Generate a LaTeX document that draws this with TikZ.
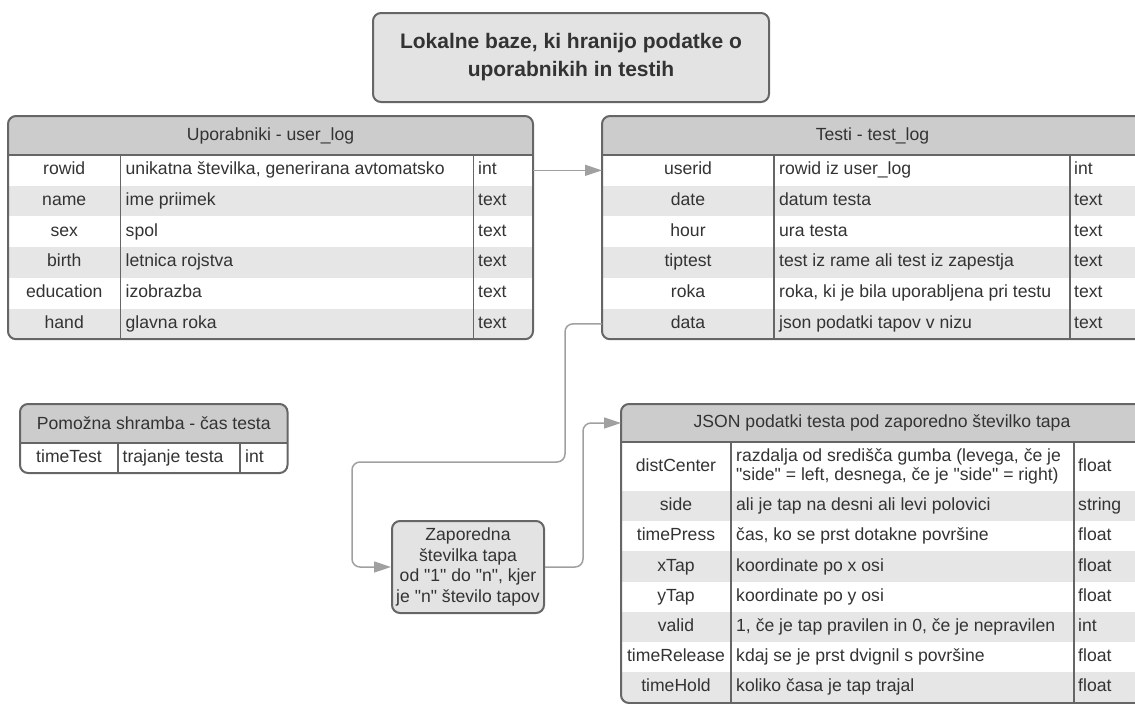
\documentclass[tikz,border=0pt]{standalone}
\usepackage{fontspec}
\setmainfont{Liberation Sans}[Ligatures=TeXOff]
\usepackage{tikz}
\usetikzlibrary{
  arrows.meta,%
  positioning,%
  calc
}
\definecolor{framegray}{HTML}{666666}
\definecolor{headgray}{HTML}{CCCCCC}
\definecolor{rowgray}{HTML}{E6E6E6}
\definecolor{boxgray}{HTML}{E3E3E3}
\definecolor{linkgray}{HTML}{A0A0A0}
\definecolor{txtgray}{HTML}{333333}
\tikzset{>={Triangle[length=17pt, width=11pt]}}
\tikzset{
  cell/.style={inner sep=0pt, outer sep=0pt, anchor=north west},
  headcell/.style={cell, fill=headgray, minimum height=39pt},
  rowcell/.style={cell, minimum height=30.7pt},
  fld/.style={inner sep=0pt, text height=12.7pt, text depth=3.7pt},
  txt/.style={fld, anchor=west},
  colline/.style={draw=framegray, line width=1.3pt},
  tabframe/.style={draw=framegray, line width=2pt, rounded corners=8pt},
  titlebox/.style={draw=framegray, line width=2pt, fill=boxgray, rounded corners=8pt,
    align=center, font=\bfseries\fontsize{21}{28}\selectfont},
  tapbox/.style={draw=framegray, line width=2pt, fill=boxgray, rounded corners=8pt,
    align=center, inner sep=2pt, minimum width=152pt, minimum height=92pt},
  link/.style={draw=linkgray, line width=1.5pt, rounded corners=8pt, ->}
}

\begin{document}
\begin{tikzpicture}[x=1pt, y=-1pt, font=\fontsize{17.6}{20.7}\selectfont, text=txtgray]
  \clip (0,0) rectangle (1135,704);

  % title
  \node[titlebox, minimum width=396pt, minimum height=89pt] (title) at (571,57.5)
    {Lokalne baze, ki hranijo podatke o\\uporabnikih in testih};

  % user_log
  \begin{scope}
    \clip[rounded corners=8pt] (8,116) rectangle (533,339.2);
    \node[headcell, minimum width=525pt] (ul-h) at (8,116) {Uporabniki - user\_log};
    \foreach \f/\d/\t/\c [count=\i] in {rowid/{unikatna številka, generirana avtomatsko}/int/white,
        name/ime priimek/text/rowgray, sex/spol/text/white, birth/letnica rojstva/text/rowgray,
        education/izobrazba/text/white, hand/glavna roka/text/rowgray}
    {
      \node[rowcell, fill=\c, minimum width=525pt] (ul-\i) at (8,{155+(\i-1)*30.7}) {};
      \node[fld] (ul-\i-f) at ([xshift=56.25pt]ul-\i.west) {\f};
      \node[txt] (ul-\i-d) at ([xshift=117.5pt]ul-\i.west) {\d};
      \node[txt] (ul-\i-t) at ([xshift=470pt]ul-\i.west) {\t};
    }
  \end{scope}
  \draw[colline] (120.5,155) -- (120.5,339.2);
  \draw[colline] (473.5,155) -- (473.5,339.2);
  \draw[tabframe] (ul-h.south west) -- (ul-h.south east);
  \draw[tabframe] (8,116) rectangle (533,339.2);

  % test_log
  \begin{scope}
    \clip[rounded corners=8pt] (602,116) rectangle (1143,339.2);
    \node[headcell, minimum width=541pt] (tl-h) at (602,116) {Testi - test\_log};
    \foreach \f/\d/\t/\c [count=\i] in {userid/rowid iz user\_log/int/white,
        date/datum testa/text/rowgray, hour/ura testa/text/white,
        tiptest/test iz rame ali test iz zapestja/text/rowgray,
        roka/{roka, ki je bila uporabljena pri testu}/text/white,
        data/json podatki tapov v nizu/text/rowgray}
    {
      \node[rowcell, fill=\c, minimum width=541pt] (tl-\i) at (602,{155+(\i-1)*30.7}) {};
      \node[fld] (tl-\i-f) at ([xshift=86pt]tl-\i.west) {\f};
      \node[txt] (tl-\i-d) at ([xshift=177pt]tl-\i.west) {\d};
      \node[txt] (tl-\i-t) at ([xshift=472pt]tl-\i.west) {\t};
    }
  \end{scope}
  \draw[colline] (774,155) -- (774,339.2);
  \draw[colline] (1070,155) -- (1070,339.2);
  \draw[tabframe] (tl-h.south west) -- (tl-h.south east);
  \draw[tabframe] (602,116) rectangle (1143,339.2);

  % pomozna shramba
  \begin{scope}
    \clip[rounded corners=8pt] (20,404) rectangle (287.5,473);
    \node[headcell, minimum width=267.5pt] (st-h) at (20,404) {Pomožna shramba - čas testa};
    \node[rowcell, fill=white, minimum width=267.5pt, minimum height=30pt] (st-1) at (20,443) {};
    \node[fld] (st-1-f) at ([xshift=49pt]st-1.west) {timeTest};
    \node[txt] (st-1-d) at ([xshift=102.5pt]st-1.west) {trajanje testa};
    \node[txt] (st-1-t) at ([xshift=225pt]st-1.west) {int};
  \end{scope}
  \draw[colline] (118,443) -- (118,473);
  \draw[colline] (240,443) -- (240,473);
  \draw[tabframe] (st-h.south west) -- (st-h.south east);
  \draw[tabframe] (20,404) rectangle (287.5,473);

  % zaporedna stevilka tapa
  \node[tapbox] (tap) at (468,567)
    {Zaporedna\\številka tapa\\od "1" do "n", kjer\\je "n" število tapov};

  % JSON podatki
  \begin{scope}
    \clip[rounded corners=8pt] (621,404) rectangle (1143,703);
    \node[headcell, minimum width=522pt, minimum height=38pt] (jt-h) at (621,404)
      {JSON podatki testa pod zaporedno številko tapa};
    \node[rowcell, fill=white, minimum width=522pt, minimum height=49pt] (jt-1) at (621,442) {};
    \node[fld] (jt-1-f) at ([xshift=55pt]jt-1.west) {distCenter};
    \node[inner sep=0pt, anchor=west, align=left, font=\fontsize{17.6}{19.3}\selectfont]
      (jt-1-d) at ([xshift=115pt]jt-1.west)
      {razdalja od središča gumba (levega, če je\\"side" = left, desnega, če je "side" = right)};
    \node[txt] (jt-1-t) at ([xshift=457pt]jt-1.west) {float};
    \foreach \f/\d/\t/\c [count=\i from 2] in {side/ali je tap na desni ali levi polovici/string/rowgray,
        timePress/{čas, ko se prst dotakne površine}/float/white,
        xTap/koordinate po x osi/float/rowgray, yTap/koordinate po y osi/float/white,
        valid/{1, če je tap pravilen in 0, če je nepravilen}/int/rowgray,
        timeRelease/kdaj se je prst dvignil s površine/float/white,
        timeHold/koliko časa je tap trajal/float/rowgray}
    {
      \node[rowcell, fill=\c, minimum width=522pt, minimum height=30.2pt] (jt-\i) at (621,{491+(\i-2)*30.2}) {};
      \node[fld] (jt-\i-f) at ([xshift=55pt]jt-\i.west) {\f};
      \node[txt] (jt-\i-d) at ([xshift=115pt]jt-\i.west) {\d};
      \node[txt] (jt-\i-t) at ([xshift=457pt]jt-\i.west) {\t};
    }
  \end{scope}
  \draw[colline] (731,442) -- (731,703);
  \draw[colline] (1074,442) -- (1074,703);
  \draw[tabframe] (jt-h.south west) -- (jt-h.south east);
  \draw[tabframe] (621,404) rectangle (1143,703);

  % povezave
  \draw[link] (ul-1.east) -- (tl-1.west);
  \draw[link] (tl-6.west) -| (565,462) -| ([xshift=-39pt]tap.west) -- (tap.west);
  \draw[link] (tap.east) -| ([xshift=-38pt]jt-h.west) -- (jt-h.west);
\end{tikzpicture}
\end{document}
